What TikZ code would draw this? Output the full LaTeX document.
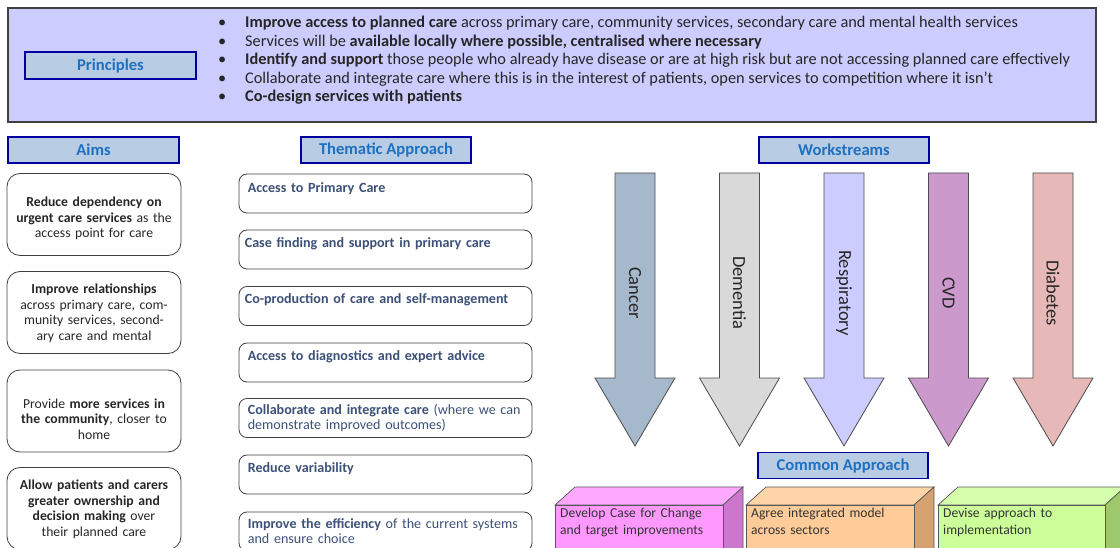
\documentclass[tikz,border=0pt]{standalone}
\usepackage{fontspec}
\setmainfont{Carlito}
\usetikzlibrary{positioning}

\definecolor{prinfill}{RGB}{204,204,255}
\definecolor{hdrfill}{RGB}{184,204,228}
\definecolor{hdrline}{RGB}{0,0,160}
\definecolor{hdrtext}{RGB}{31,112,192}
\definecolor{themtext}{RGB}{60,80,120}
\definecolor{cancerfill}{RGB}{166,184,204}
\definecolor{dementiafill}{RGB}{217,217,217}
\definecolor{respfill}{RGB}{204,204,255}
\definecolor{cvdfill}{RGB}{204,153,204}
\definecolor{diabfill}{RGB}{230,185,184}
\definecolor{pinkfront}{RGB}{255,153,255}
\definecolor{pinktop}{RGB}{255,168,255}
\definecolor{pinkside}{RGB}{204,119,204}
\definecolor{peachfront}{RGB}{255,204,153}
\definecolor{peachtop}{RGB}{255,212,168}
\definecolor{peachside}{RGB}{214,163,112}
\definecolor{limefront}{RGB}{204,255,153}
\definecolor{limetop}{RGB}{214,255,172}
\definecolor{limeside}{RGB}{158,200,110}

\begin{document}
\begin{tikzpicture}[x=1pt, y=-1pt,
  hdr/.style={draw=hdrline, line width=1.6pt, fill=hdrfill, text=hdrtext,
    font=\bfseries\fontsize{16.6}{18}\selectfont, minimum width=170pt,
    minimum height=26pt, inner sep=0pt},
  prinline/.style={anchor=base west, inner sep=0pt,
    font=\fontsize{16.3}{18}\selectfont, text=black!85},
  aimbox/.style={draw=black!75, line width=0.8pt, rounded corners=13pt,
    minimum width=174pt, minimum height=82pt, inner sep=0pt},
  aimlbl/.style={align=center, text width=170pt, inner sep=0pt,
    font=\fontsize{13.7}{15.5}\selectfont, text=black!85},
  thembox/.style={draw=black!75, line width=0.8pt, rounded corners=8pt,
    minimum width=293pt, minimum height=39pt, inner sep=0pt},
  themlbl/.style={anchor=base west, inner sep=0pt, text width=284pt, align=left,
    font=\fontsize{14.1}{15.5}\selectfont, text=themtext},
  ws/.style={draw=black!70, line width=0.8pt},
  wslbl/.style={rotate=-90, inner sep=0pt, font=\fontsize{18.5}{19}\selectfont, text=black!85},
  cube/.style={draw=black!65, line width=0.7pt},
  cubelbl/.style={anchor=base west, inner sep=0pt, text width=165pt, align=left,
    font=\fontsize{13.6}{17}\selectfont, text=black!80}
]
\useasboundingbox (0,0) rectangle (1120,548);

% principles
\node[draw=black!75, line width=1.2pt, fill=prinfill, minimum width=1088pt,
  minimum height=114pt, inner sep=0pt] (prinbox) at (552,65) {};
\node[hdr, minimum width=171pt, minimum height=27pt] (prinhdr) at (110.5,65.5) {Principles};
\node[prinline] (p1) at (245,28) {\llap{\textbullet\hspace{19pt}}\textbf{Improve access to planned care} across primary care, community services, secondary care and mental health services};
\node[prinline] (p2) at (245,46.5) {\llap{\textbullet\hspace{19pt}}Services will be \textbf{available locally where possible, centralised where necessary}};
\node[prinline] (p3) at (245,65) {\llap{\textbullet\hspace{19pt}}\textbf{Identify and support} those people who already have disease or are at high risk but are not accessing planned care effectively};
\node[prinline] (p4) at (245,83.5) {\llap{\textbullet\hspace{19pt}}Collaborate and integrate care where this is in the interest of patients, open services to competition where it isn’t};
\node[prinline] (p5) at (245,102) {\llap{\textbullet\hspace{19pt}}\textbf{Co-design services with patients}};

% aims
\node[hdr, minimum width=171pt] (aimhdr) at (93.5,150) {Aims};
\node[aimbox] (aim1) at (94,214.5) {};
\node[aimbox] (aim2) at (94,312.5) {};
\node[aimbox] (aim3) at (94,411) {};
\node[aimbox] (aim4) at (94,508.5) {};
\node[aimlbl] (al1) at ([yshift=-4pt]aim1.center) {\textbf{Reduce dependency on}\\\textbf{urgent care services} as the\\access point for care};
\node[aimlbl] (al2) at ([yshift=-1pt]aim2.center) {\textbf{Improve relationships}\\across primary care, com-\\munity services, second-\\ary care and mental};
\node[aimlbl] (al3) at ([yshift=-8pt]aim3.center) {Provide \textbf{more services in}\\\textbf{the community}, closer to\\home};
\node[aimlbl] (al4) at ([yshift=-1pt]aim4.center) {\textbf{Allow patients and carers}\\\textbf{greater ownership and}\\\textbf{decision making} over\\their planned care};

% thematic approach
\node[hdr] (themhdr) at (386,150) {Thematic Approach};
\node[thembox] (th1) at (385.5,193.5) {};
\node[thembox] (th2) at (385.5,249.5) {};
\node[thembox] (th3) at (385.5,306) {};
\node[thembox] (th4) at (385.5,362.5) {};
\node[thembox] (th5) at (385.5,418) {};
\node[thembox] (th6) at (385.5,474.5) {};
\node[thembox] (th7) at (385.5,531.5) {};
\node[themlbl] (tl1) at ([xshift=9pt,yshift=-18.5pt]th1.north west) {\textbf{Access to Primary Care}};
\node[themlbl] (tl2) at ([xshift=6pt,yshift=-17.5pt]th2.north west) {\textbf{Case finding and support in primary care}};
\node[themlbl] (tl3) at ([xshift=6pt,yshift=-17.5pt]th3.north west) {\textbf{Co-production of care and self-management}};
\node[themlbl] (tl4) at ([xshift=9pt,yshift=-17.5pt]th4.north west) {\textbf{Access to diagnostics and expert advice}};
\node[themlbl] (tl5) at ([xshift=9pt,yshift=-16pt]th5.north west) {\textbf{Collaborate and integrate care} (where we can demonstrate improved outcomes)};
\node[themlbl] (tl6) at ([xshift=9pt,yshift=-17.5pt]th6.north west) {\textbf{Reduce variability}};
\node[themlbl] (tl7) at ([xshift=9pt,yshift=-16.5pt]th7.north west) {\textbf{Improve the efficiency} of the current systems and ensure choice};

% workstreams
\node[hdr] (wshdr) at (844,150) {Workstreams};
\filldraw[ws, fill=cancerfill] (615,173) -- (655,173) -- (655,378) -- (675,378) -- (635,446) -- (595,378) -- (615,378) -- cycle;
\node[wslbl] (cancer) at (635,293) {Cancer};
\filldraw[ws, fill=dementiafill] (719.5,173) -- (759.5,173) -- (759.5,378) -- (779.5,378) -- (739.5,446) -- (699.5,378) -- (719.5,378) -- cycle;
\node[wslbl] (dementia) at (739.5,293) {Dementia};
\filldraw[ws, fill=respfill] (824,173) -- (864,173) -- (864,378) -- (884,378) -- (844,446) -- (804,378) -- (824,378) -- cycle;
\node[wslbl] (resp) at (844,293) {Respiratory};
\filldraw[ws, fill=cvdfill] (928.5,173) -- (968.5,173) -- (968.5,378) -- (988.5,378) -- (948.5,446) -- (908.5,378) -- (928.5,378) -- cycle;
\node[wslbl] (cvd) at (948.5,293) {CVD};
\filldraw[ws, fill=diabfill] (1033,173) -- (1073,173) -- (1073,378) -- (1093,378) -- (1053,446) -- (1013,378) -- (1033,378) -- cycle;
\node[wslbl] (diab) at (1053,293) {Diabetes};

% common approach
\node[hdr] (comhdr) at (843,465.5) {Common Approach};
\filldraw[cube, fill=pinktop] (555,505) -- (575,487) -- (743,487) -- (723,505) -- cycle;
\filldraw[cube, fill=pinkside] (723,505) -- (743,487) -- (743,560) -- (723,570) -- cycle;
\filldraw[cube, fill=pinkfront] (555,505) rectangle (723,570);
\node[cubelbl] (c1) at (560,517) {Develop Case for Change\\and target improvements};
\filldraw[cube, fill=peachtop] (746,505) -- (766,487) -- (934,487) -- (914,505) -- cycle;
\filldraw[cube, fill=peachside] (914,505) -- (934,487) -- (934,560) -- (914,570) -- cycle;
\filldraw[cube, fill=peachfront] (746,505) rectangle (914,570);
\node[cubelbl] (c2) at (751,517) {Agree integrated model\\across sectors};
\filldraw[cube, fill=limetop] (938,505) -- (958,487) -- (1125,487) -- (1105,505) -- cycle;
\filldraw[cube, fill=limeside] (1105,505) -- (1125,487) -- (1125,560) -- (1105,570) -- cycle;
\filldraw[cube, fill=limefront] (938,505) rectangle (1105,570);
\node[cubelbl] (c3) at (943,517) {Devise approach to\\implementation};
\end{tikzpicture}
\end{document}
